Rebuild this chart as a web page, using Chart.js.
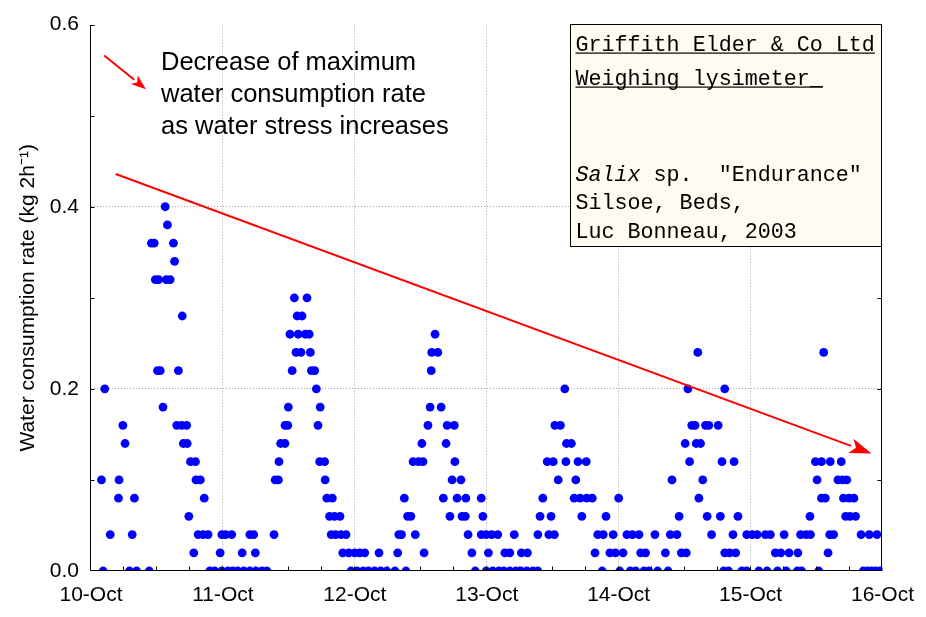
<!DOCTYPE html>
<html><head><meta charset="utf-8">
<script src="https://cdn.jsdelivr.net/npm/chart.js@4.4.1/dist/chart.umd.min.js"></script>
<style>html,body{margin:0;padding:0;background:#fff}#wrap{width:926px;height:617px}</style>
</head><body><div id="wrap"><canvas id="c" width="926" height="617"></canvas></div>
<script>
// hours since 10-Oct 00:00
const timeHours = [
1.9,2.2,2.5,3.5,5.0,5.1,5.8,6.2,7.0,7.5,7.9,8.3,10.6,11.0,11.5,11.7,12.1,12.3,12.6,13.1,
13.5,13.7,13.9,14.4,15.0,15.2,15.6,15.9,16.5,16.6,16.8,17.4,17.5,17.8,18.1,18.7,19.0,19.1,19.5,19.9,
20.4,20.6,21.3,21.6,22.5,23.5,23.8,23.8,24.5,24.9,25.6,25.8,26.7,27.5,27.8,28.9,28.9,29.6,29.9,30.0,
31.1,32.0,33.3,33.5,34.1,34.2,34.5,35.3,35.3,35.8,35.9,36.2,36.6,37.0,37.3,37.5,37.7,38.2,38.4,39.0,
39.3,39.7,39.9,40.1,40.7,41.0,41.3,41.6,41.7,42.5,42.6,42.9,43.4,43.7,43.9,44.3,44.5,45.3,45.5,45.8,
46.4,46.9,47.3,48.0,48.4,48.9,49.5,49.8,50.5,51.6,52.4,52.7,53.8,55.3,55.8,56.0,56.5,57.0,57.3,57.6,
58.2,58.6,59.0,59.6,60.2,60.4,60.6,61.3,61.7,61.9,62.0,62.6,63.1,63.7,64.1,64.6,64.8,65.3,65.7,66.1,
66.2,66.6,67.3,67.5,68.1,68.2,68.6,69.3,69.9,71.0,71.0,71.3,71.9,71.9,72.3,72.9,73.1,74.0,74.2,75.1,
75.3,76.2,76.2,77.0,77.3,78.2,78.3,79.3,79.4,80.4,81.3,81.3,81.7,82.2,83.0,83.3,83.7,84.1,84.3,84.4,
85.0,85.4,86.2,86.4,86.5,87.4,87.9,88.2,88.6,89.0,89.3,90.1,90.2,91.2,91.7,92.2,93.0,93.2,93.7,94.4,
95.0,95.4,96.0,96.2,96.8,97.5,98.1,98.5,99.1,99.7,100.0,100.6,100.9,101.5,102.6,103.1,104.5,105.0,105.4,105.7,
106.6,107.0,107.4,108.1,108.3,108.6,108.9,109.3,109.9,110.1,110.4,110.6,110.9,111.3,111.8,112.1,112.4,112.9,114.1,114.5,
114.8,115.1,115.3,115.3,116.0,116.2,116.8,117.0,117.3,117.7,118.4,119.3,119.3,120.3,121.2,121.5,122.7,123.0,123.6,124.5,
124.9,125.5,126.1,126.5,127.0,128.5,128.6,129.1,129.3,130.1,130.8,130.9,131.8,132.1,132.4,132.9,132.9,133.3,133.6,134.1,
134.4,134.5,135.1,135.9,136.5,136.7,136.9,137.3,137.5,137.9,138.1,138.8,139.1,140.1,140.5,141.3,141.6,142.0,142.7,143.0,
143.5
];
// kg per 2h
const rateKg = [
0.10,0,0.20,0.04,0.08,0.10,0.16,0.14,0,0.04,0.08,0,0,0.36,0.36,0.32,0.22,0.32,0.22,0.18,
0.40,0.32,0.38,0.32,0.36,0.34,0.16,0.22,0.16,0.28,0.14,0.16,0.14,0.06,0.12,0.02,0.12,0.10,0.04,0.10,
0.04,0.08,0.04,0,0,0.02,0,0.04,0.04,0,0.04,0,0,0.02,0,0,0.04,0.04,0.02,0,
0,0,0.04,0.10,0.10,0.12,0.14,0.14,0.16,0.16,0.18,0.26,0.22,0.30,0.24,0.28,0.26,0.24,0.28,0.26,
0.30,0.26,0.24,0.22,0.22,0.20,0.16,0.12,0.18,0.12,0.10,0.08,0.06,0.04,0.08,0.06,0.04,0.06,0.04,0.02,
0.04,0.02,0,0.02,0,0.02,0,0.02,0,0,0.02,0,0,0,0.02,0.04,0.04,0.08,0,0.06,
0.06,0.12,0.04,0.12,0.14,0.12,0.02,0.16,0.18,0.22,0.24,0.26,0.24,0.18,0.08,0.14,0.16,0.06,0.10,0.16,
0.12,0.08,0.10,0.06,0.06,0.08,0.04,0.02,0,0.08,0.04,0.06,0.04,0,0.02,0.04,0,0.04,0,0,
0.02,0.02,0,0.04,0,0,0.02,0,0.02,0,0,0.04,0.06,0.08,0.12,0.04,0.06,0.12,0.04,0.16,
0.10,0.16,0.20,0.12,0.14,0.14,0.08,0.10,0.12,0.08,0.06,0.12,0.08,0.08,0.02,0.04,0,0.04,0.06,0.02,
0.04,0.02,0.08,0,0.02,0.04,0,0.04,0,0.04,0.02,0,0.02,0,0.04,0,0.02,0,0.04,0.10,
0.04,0.06,0.02,0.14,0.02,0.20,0.12,0.16,0.16,0.14,0.24,0.08,0.14,0.10,0.16,0.06,0.16,0.04,0.16,0.06,
0.12,0,0.02,0.20,0,0.02,0.04,0.12,0.02,0.06,0,0.04,0,0.04,0.04,0,0.04,0,0.04,0.02,
0,0.02,0.04,0,0.02,0,0.02,0.04,0,0.04,0.06,0.04,0.12,0.10,0,0.08,0.12,0.24,0.08,0.02,
0.04,0.12,0.04,0.10,0.12,0.10,0.08,0.06,0.10,0.08,0.06,0.08,0.06,0.04,0,0,0.04,0,0,0.04,
0
];
const dayTicks = [0,24,48,72,96,120,144];
const dayLabels = ['10-Oct','11-Oct','12-Oct','13-Oct','14-Oct','15-Oct','16-Oct'];
const yTicks = [0,0.2,0.4,0.6];
const yTickLabels = ['0.0','0.2','0.4','0.6'];
const yMinorTicks = [0.1,0.2,0.3,0.4,0.5,0.6];
const xMinorTicks = [6,12,18,24,30,36,42,48,54,60,66,72,78,84,90,96,102,108,114,120,126,132,138];
const yTitle = 'Water consumption rate (kg 2h\u207B\u00B9)';
const arrowText = ['Decrease of maximum','water consumption rate','as water stress increases'];
const noteTitle = ['Griffith Elder & Co Ltd','Weighing lysimeter_'];
const noteSpecies = ['Salix',' sp.  "Endurance"'];
const noteLines = ['Silsoe, Beds,','Luc Bonneau, 2003'];
// annotation anchors in data units
const bigArrow = {x1:4.5, y1:0.436, x2:142.0, y2:0.129};
const smallArrow = {x1:2.4, y1:0.566, x2:10.0, y2:0.529};
const noteBox = {x1:87.1, y1:0.6, x2:144, y2:0.357};

const SANS = "'Liberation Sans', Arial, sans-serif";
const MONO = "'Liberation Mono', 'Courier New', monospace";

function drawArrow(ctx, x1, y1, x2, y2, len, wid, lw) {
  const ang = Math.atan2(y2 - y1, x2 - x1);
  const bx = x2 - Math.cos(ang) * len, by = y2 - Math.sin(ang) * len;
  ctx.lineWidth = lw;
  ctx.beginPath(); ctx.moveTo(x1, y1); ctx.lineTo(bx, by); ctx.stroke();
  const px = -Math.sin(ang) * wid / 2, py = Math.cos(ang) * wid / 2;
  ctx.beginPath();
  ctx.moveTo(x2, y2);
  ctx.lineTo(bx + px, by + py);
  ctx.lineTo(bx + Math.cos(ang)*len*0.25, by + Math.sin(ang)*len*0.25);
  ctx.lineTo(bx - px, by - py);
  ctx.closePath(); ctx.fill();
}

const notePlugin = {
  id: 'notes',
  afterDatasetsDraw(chart) {
    const {ctx, chartArea: a, scales: {x, y}} = chart;
    ctx.save();
    // frame (left, bottom, right)
    ctx.strokeStyle = '#000'; ctx.lineWidth = 1;
    const L = Math.round(a.left) - 0.5, R = Math.round(a.right) - 0.5, B = Math.round(a.bottom) - 0.5, T = Math.round(a.top);
    ctx.beginPath();
    ctx.moveTo(L, T); ctx.lineTo(L, B); ctx.lineTo(R, B); ctx.lineTo(R, T);
    ctx.stroke();
    // inward ticks
    ctx.beginPath();
    yMinorTicks.forEach(v => {
      const p = Math.round(y.getPixelForValue(v)) + 0.5;
      ctx.moveTo(L, p); ctx.lineTo(L + 4, p);
      ctx.moveTo(R, p); ctx.lineTo(R - 4, p);
    });
    xMinorTicks.forEach(h => {
      const p = Math.round(x.getPixelForValue(h)) - 0.5;
      ctx.moveTo(p, B); ctx.lineTo(p, B - 4);
    });
    ctx.stroke();
    // note box
    const bx1 = Math.round(x.getPixelForValue(noteBox.x1)) + 0.5;
    const bx2 = Math.round(x.getPixelForValue(noteBox.x2)) - 0.5;
    const by1 = Math.round(y.getPixelForValue(noteBox.y1)) - 0.5;
    const by2 = Math.round(y.getPixelForValue(noteBox.y2)) + 0.5;
    ctx.fillStyle = '#fffbf0';
    ctx.fillRect(bx1, by1, bx2 - bx1, by2 - by1);
    ctx.strokeRect(bx1, by1, bx2 - bx1, by2 - by1);
    ctx.fillStyle = '#000';
    ctx.textBaseline = 'alphabetic';
    ctx.textAlign = 'left';
    const tx = bx1 + 5;
    ctx.font = '21.7px ' + MONO;
    const base = [by1 + 26, by1 + 60, by1 + 156, by1 + 184, by1 + 213];
    noteTitle.forEach((t, i) => {
      ctx.fillText(t, tx, base[i]);
      const w = ctx.measureText(t).width;
      ctx.fillRect(tx, base[i] + 2, w, 1.2);
    });
    ctx.font = 'italic 21.7px ' + MONO;
    ctx.fillText(noteSpecies[0], tx, base[2]);
    const w0 = ctx.measureText(noteSpecies[0]).width;
    ctx.font = '21.7px ' + MONO;
    ctx.fillText(noteSpecies[1], tx + w0, base[2]);
    noteLines.forEach((t, i) => ctx.fillText(t, tx, base[3 + i]));
    // arrows
    ctx.strokeStyle = '#ff0000'; ctx.fillStyle = '#ff0000';
    drawArrow(ctx, x.getPixelForValue(bigArrow.x1), y.getPixelForValue(bigArrow.y1),
      x.getPixelForValue(bigArrow.x2), y.getPixelForValue(bigArrow.y2), 22, 15, 2);
    drawArrow(ctx, x.getPixelForValue(smallArrow.x1), y.getPixelForValue(smallArrow.y1),
      x.getPixelForValue(smallArrow.x2), y.getPixelForValue(smallArrow.y2), 15, 11, 2);
    // arrow text
    ctx.fillStyle = '#000';
    ctx.font = '25.5px ' + SANS;
    arrowText.forEach((t, i) => ctx.fillText(t, a.left + 70, a.top + 45 + i * 32));
    ctx.restore();
  }
};

const gridColor = (ctx, last) => (ctx.index === 0 || ctx.index === last) ? 'rgba(0,0,0,0)' : '#a8a8a8';

new Chart(document.getElementById('c'), {
  type: 'scatter',
  data: { datasets: [{
    data: timeHours.map((t, i) => ({x: t, y: rateKg[i]})),
    backgroundColor: '#0000ff', borderWidth: 0,
    pointRadius: 4.4, pointHoverRadius: 4.4, clip: 0
  }]},
  options: {
    responsive: false, animation: false, devicePixelRatio: 1, events: [],
    layout: {padding: {left: 0, right: 43, top: 21, bottom: 0}},
    plugins: {legend: {display: false}, tooltip: {enabled: false}},
    scales: {
      x: {
        type: 'linear', min: 0, max: 144,
        afterBuildTicks: s => { s.ticks = dayTicks.map(v => ({value: v})); },
        ticks: {callback: (v, i) => dayLabels[i], font: {family: SANS, size: 21}, color: '#000',
          padding: 12, maxRotation: 0, autoSkip: false},
        grid: {color: c => gridColor(c, dayTicks.length - 1), drawTicks: false, lineWidth: 1},
        border: {display: false, dash: [1, 2]},
        afterFit: s => { s.height = 46; }
      },
      y: {
        type: 'linear', min: 0, max: 0.6,
        afterBuildTicks: s => { s.ticks = yTicks.map(v => ({value: v})); },
        ticks: {callback: (v, i) => yTickLabels[i], font: {family: SANS, size: 21}, color: '#000',
          padding: 12, autoSkip: false},
        grid: {color: c => gridColor(c, yTicks.length - 1), drawTicks: false, lineWidth: 1},
        border: {display: false, dash: [1, 2]},
        title: {display: true, text: yTitle, font: {family: SANS, size: 21}, color: '#000',
          padding: {top: 16, bottom: 0}},
        afterFit: s => { s.width = 91; }
      }
    }
  },
  plugins: [notePlugin]
});
</script>
</body></html>
